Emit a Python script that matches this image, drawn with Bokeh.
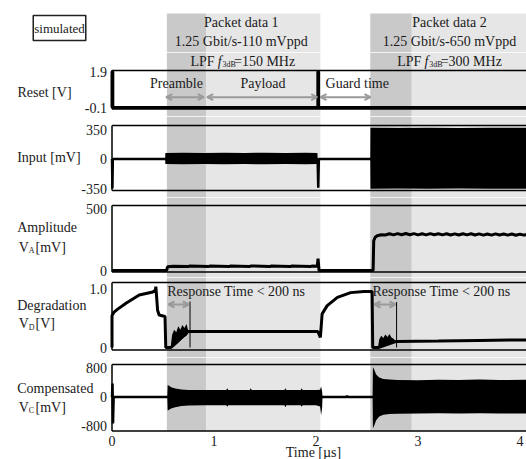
from bokeh.plotting import figure
from bokeh.models import Range1d, BoxAnnotation, Label, Arrow, OpenHead
from bokeh.layouts import column
from bokeh.embed import file_html
from bokeh.resources import INLINE

# ---------------- data ----------------
time_ticks = [0, 1, 2, 3, 4]

# shaded time intervals (µs)
preamble_1 = [0.538, 0.925]
payload_1 = [0.925, 2.043]
preamble_2 = [2.532, 2.939]
payload_2 = [2.939, 4.3]

# Reset [V]
reset_t = [0.0, 0.0, 0.008, 0.008, 2.018, 2.018, 2.026, 2.026, 4.1]
reset_v = [-0.1, 1.9, 1.9, -0.1, -0.1, 1.9, 1.9, -0.1, -0.1]
reset_ticks = [-0.1, 1.9]
reset_tick_labels = ["-0.1", "1.9"]

# Input [mV]
input_t = [0.0, 0.004, 0.008, 2.016, 2.022, 2.028, 2.54]
input_v = [0, -350, 0, 0, -340, 0, 0]
in1_t = [0.521, 0.523, 0.70, 0.90, 1.10, 1.30, 1.50, 1.70, 1.90, 2.014, 2.016]
in1_hi = [0, 72, 74, 71, 74, 72, 74, 71, 74, 72, 0]
in1_lo = [0, -60, -62, -58, -62, -60, -62, -58, -62, -60, 0]
in2_t = [2.532, 2.534, 2.8, 3.1, 3.4, 3.7, 4.1]
in2_hi = [0, 370, 368, 372, 368, 370, 370]
in2_lo = [0, -352, -350, -352, -350, -352, -352]
input_ticks = [-350, 0, 350]
input_tick_labels = ["-350", "0", "350"]

# Amplitude V_A [mV]
amp_t = [0.0, 0.535, 0.545, 0.60, 0.75, 0.76, 0.95, 0.96, 1.15, 1.16,
         1.35, 1.36, 1.55, 1.56, 1.75, 1.76, 1.95, 1.96, 2.012, 2.02,
         2.03, 2.560, 2.566, 2.58, 2.60, 2.64,
         2.68, 2.72, 2.76, 2.80, 2.84, 2.88, 2.92, 2.96, 3.00, 3.04,
         3.08, 3.12, 3.16, 3.20, 3.24, 3.28, 3.32, 3.36, 3.40, 3.44,
         3.48, 3.52, 3.56, 3.60, 3.64, 3.68, 3.72, 3.76, 3.80, 3.84,
         3.88, 3.92, 3.96, 4.00, 4.04, 4.08]
amp_v = [0, 0, 30, 35, 32, 37, 32, 37, 32, 37,
         32, 37, 32, 37, 32, 37, 32, 37, 34, 95,
         0, 0, 240, 268, 280, 288,
         286, 296, 287, 297, 288, 298, 288, 297, 287, 296,
         287, 297, 288, 296, 287, 296, 286, 295, 286, 296,
         287, 296, 286, 295, 285, 294, 285, 295, 286, 294,
         285, 294, 284, 293, 285, 294]
amp_ticks = [0, 500]
amp_tick_labels = ["0", "500"]

# Degradation V_D [V]
deg_t = [0.0, 0.0, 0.02, 0.056, 0.137, 0.267, 0.40, 0.425, 0.43, 0.447,
         0.462, 0.52, 0.527, 0.578, 0.745, 2.018, 2.026, 2.043, 2.06, 2.11,
         2.21, 2.34, 2.47, 2.55, 2.556, 2.61, 2.78, 3.2, 3.6, 4.1]
deg_v = [0.0, 0.54, 0.60, 0.65, 0.75, 0.89, 0.94, 0.97, 1.03, 0.63,
         0.55, 0.525, 0.0, 0.0, 0.27, 0.27, 0.24, 0.17, 0.57, 0.71,
         0.85, 0.93, 0.95, 0.95, 0.0, 0.0, 0.10, 0.11, 0.12, 0.13]
blob1_t = [0.578, 0.59, 0.61, 0.63, 0.65, 0.67, 0.69, 0.71, 0.73, 0.745]
blob1_hi = [0.05, 0.22, 0.30, 0.26, 0.36, 0.30, 0.38, 0.33, 0.40, 0.30]
blob1_lo = [0.0, 0.0, 0.02, 0.05, 0.08, 0.12, 0.15, 0.18, 0.20, 0.24]
blob2_t = [2.61, 2.62, 2.64, 2.66, 2.68, 2.70, 2.72, 2.74, 2.76, 2.78]
blob2_hi = [0.03, 0.14, 0.20, 0.16, 0.22, 0.18, 0.23, 0.17, 0.15, 0.11]
blob2_lo = [0.0, 0.0, 0.02, 0.03, 0.03, 0.05, 0.06, 0.07, 0.08, 0.09]
resp_t = [0.765, 2.79]
resp_top = [0.78, 0.77]
deg_ticks = [0, 1.0]
deg_tick_labels = ["0", "1.0"]

# Compensated V_C [mV]
comp_t = [0.0, 0.005, 0.01, 0.016, 0.545, 2.062, 2.07, 2.30, 2.305, 2.31, 2.556, 4.1]
comp_v = [0, 370, -730, 0, 0, 0, 0, 0, 40, 0, 0, 0]
c1_t = [0.542, 0.546, 0.56, 0.58, 0.62, 0.68, 0.75, 0.9, 1.12, 1.13, 1.14, 1.35, 1.36,
        1.37, 1.69, 1.70, 1.71, 1.85, 1.86, 1.87, 2.0, 2.04, 2.05, 2.06, 2.064]
c1_hi = [0, 330, 310, 270, 235, 210, 195, 190, 190, 240, 190, 190, 240,
         190, 190, 240, 190, 190, 240, 190, 190, 200, 290, 150, 0]
c1_lo = [0, -370, -350, -320, -280, -250, -235, -225, -225, -270, -225, -225, -230,
         -225, -225, -280, -225, -225, -270, -225, -225, -260, -500, -300, 0]
c2_t = [2.555, 2.558, 2.57, 2.59, 2.62, 2.66, 2.72, 2.8, 3.0, 3.2, 3.4, 3.6, 3.8, 4.1]
c2_hi = [0, 830, 760, 620, 540, 500, 480, 470, 465, 475, 470, 480, 470, 475]
c2_lo = [0, -860, -790, -640, -540, -490, -470, -460, -455, -450, -455, -450, -455, -455]
comp_ticks = [-800, 0, 800]
comp_tick_labels = ["-800", "0", "800"]

packet_titles = ["Packet data 1", "Packet data 2"]
packet_rates = ["1.25 Gbit/s-110 mVppd", "1.25 Gbit/s-650 mVppd"]
packet_lpf = ["=150 MHz", "=300 MHz"]

# ---------------- style / layout ----------------
FONT = "Liberation Serif"
TXT = "#1a1a1a"
INK = "#000000"
DARK = "#c9c9c9"
LIGHT = "#e6e6e6"
GRAY = "#9a9a9a"

W = 526
X0 = 111.5      # page px of t = 0
PXU = 102.0     # px per µs
x_range = Range1d(-X0 / PXU, (W - X0) / PXU)
XEND = x_range.end


def tx(px):
    return (px - X0) / PXU


def ymap(pa, va, pb, vb):
    return lambda px: vb + (pb - px) * (va - vb) / (pb - pa)


def shade(p, top=None, bottom=None):
    for (a, b), c in [(preamble_1, DARK), (payload_1, LIGHT), (preamble_2, DARK), (payload_2, LIGHT)]:
        p.add_layout(BoxAnnotation(left=a, right=b, top=top, bottom=bottom, fill_color=c,
                                   fill_alpha=1.0, line_color=None, level="underlay"))


def lab(p, x, y, text, size=14, align="left", style="normal", **kw):
    p.add_layout(Label(x=x, y=y, text=text, text_font=FONT, text_font_size=f"{size}px",
                       text_align=align, text_baseline="middle", text_font_style=style,
                       text_color=TXT, **kw))


def base_fig(frame_top, frame_bot, f):
    p = figure(width=W, height=int(frame_bot - frame_top), x_range=x_range,
               y_range=Range1d(f(frame_bot), f(frame_top)), output_backend="svg",
               toolbar_location=None, x_axis_type=None, y_axis_type=None, min_border=0)
    p.outline_line_color = None
    p.grid.visible = False
    return p


def panel(frame_top, frame_bot, pa, va, pb, vb, box_top, box_bot, ticks, tick_labels,
          shade_bottom_px=None):
    f = ymap(pa, va, pb, vb)
    p = base_fig(frame_top, frame_bot, f)
    shade(p, bottom=None if shade_bottom_px is None else f(shade_bottom_px))
    blo, bhi = f(box_bot), f(box_top)
    p.segment(x0=[0, 0, 0], y0=[blo, bhi, blo], x1=[0, XEND + 1, XEND + 1], y1=[bhi, bhi, blo],
              line_color=INK, line_width=1.5)
    for v, s in zip(ticks, tick_labels):
        lab(p, tx(106.5), v, s, align="right")
    return p, f


def arrow(p, xa, xb, y):
    p.add_layout(Arrow(x_start=xa, y_start=y, x_end=xb, y_end=y,
                       start=OpenHead(size=6, line_color=GRAY, line_width=2),
                       end=OpenHead(size=6, line_color=GRAY, line_width=2),
                       line_color=GRAY, line_width=2))


# ---------------- header ----------------
f_hdr = ymap(0, 0, 52, 52)
hdr = base_fig(0, 52, f_hdr)
hdr.y_range = Range1d(52, 0)
shade(hdr, top=13)
lab(hdr, tx(59), 27.5, "simulated", size=13, align="center",
    border_line_color="#222", border_line_width=1.5, background_fill_color="white",
    padding=(1, 5))
for cx, title, rate in [(240.8, packet_titles[0], packet_rates[0]),
                        (449.0, packet_titles[1], packet_rates[1])]:
    lab(hdr, tx(cx), 21.7, title, align="center")
    lab(hdr, tx(cx), 40.5, rate, align="center")

# ---------------- Reset (also carries the LPF header line) ----------------
p_reset, f_reset = panel(52, 116, 71, 1.9, 107, -0.1, 70, 108.5, reset_ticks, reset_tick_labels)
p_reset.line(reset_t, reset_v, line_color=INK, line_width=3)
for lpf_x, lpf in [(190.0, packet_lpf[0]), (396.7, packet_lpf[1])]:
    lab(p_reset, tx(lpf_x), f_reset(61.0), "LPF")
    lab(p_reset, tx(lpf_x + 27.3), f_reset(61.0), "f", style="italic")
    lab(p_reset, tx(lpf_x + 32.0), f_reset(64.3), "3dB", size=8)
    lab(p_reset, tx(lpf_x + 43.5), f_reset(61.0), lpf)
lab(p_reset, tx(17), f_reset(91.7), "Reset [V]")
for cx, txt in [(176, "Preamble"), (262.5, "Payload"), (356.7, "Guard time")]:
    lab(p_reset, tx(cx), f_reset(83), txt, align="center")
for a, b in [(165.7, 203.3), (206.7, 316.7), (320, 370)]:
    arrow(p_reset, tx(a), tx(b), f_reset(96.7))

# ---------------- Input ----------------
p_in, f_in = panel(116, 197, 129, 350, 188, -350, 125, 190, input_ticks, input_tick_labels)
p_in.varea(x=in1_t, y1=in1_lo, y2=in1_hi, fill_color=INK)
p_in.varea(x=in2_t, y1=in2_lo, y2=in2_hi, fill_color=INK)
p_in.line(input_t, input_v, line_color=INK, line_width=2.5)
lab(p_in, tx(16.7), f_in(156.7), "Input [mV]")

# ---------------- Amplitude ----------------
p_amp, f_amp = panel(197, 277, 208, 500, 270, 0, 205, 271.5, amp_ticks, amp_tick_labels)
p_amp.line(amp_t, amp_v, line_color=INK, line_width=3)
lab(p_amp, tx(16.7), f_amp(226.7), "Amplitude")
lab(p_amp, tx(18.3), f_amp(246.7), "V")
lab(p_amp, tx(28.3), f_amp(250.2), "A", size=8)
lab(p_amp, tx(35.0), f_amp(246.7), "[mV]")

# ---------------- Degradation ----------------
p_deg, f_deg = panel(277, 357, 288, 1.0, 347, 0.0, 282, 349.5, deg_ticks, deg_tick_labels)
p_deg.varea(x=blob1_t, y1=blob1_lo, y2=blob1_hi, fill_color=INK)
p_deg.varea(x=blob2_t, y1=blob2_lo, y2=blob2_hi, fill_color=INK)
p_deg.line(deg_t, deg_v, line_color=INK, line_width=3)
p_deg.segment(x0=resp_t, y0=[0, 0], x1=resp_t, y1=resp_top, line_color=INK, line_width=1)
lab(p_deg, tx(16.7), f_deg(305), "Degradation")
lab(p_deg, tx(18.3), f_deg(323.3), "V")
lab(p_deg, tx(28.3), f_deg(326.6), "D", size=8)
lab(p_deg, tx(35.0), f_deg(323.3), "[V]")
for left, a, b in [(166.7, 168, 188.3), (372, 374, 395)]:
    lab(p_deg, tx(left), f_deg(291.3), "Response Time < 200 ns")
    arrow(p_deg, tx(a), tx(b), f_deg(304))

# ---------------- Compensated ----------------
p_comp, f_comp = panel(357, 459, 367.5, 800, 425.5, -800, 364, 430.5, comp_ticks,
                       comp_tick_labels, shade_bottom_px=430.5)
p_comp.varea(x=c1_t, y1=c1_lo, y2=c1_hi, fill_color=INK)
p_comp.varea(x=c2_t, y1=c2_lo, y2=c2_hi, fill_color=INK)
p_comp.line(comp_t, comp_v, line_color=INK, line_width=2.5)
lab(p_comp, tx(16.7), f_comp(388.3), "Compensated")
lab(p_comp, tx(18.3), f_comp(406.7), "V")
lab(p_comp, tx(28.3), f_comp(410.0), "C", size=8)
lab(p_comp, tx(35.0), f_comp(406.7), "[mV]")
for t in time_ticks:
    lab(p_comp, t, f_comp(440), str(t), align="center")
lab(p_comp, tx(313), f_comp(452), "Time [µs]", align="center")

layout = column(hdr, p_reset, p_in, p_amp, p_deg, p_comp, spacing=0)
open("out.html", "w").write(file_html(layout, INLINE))
